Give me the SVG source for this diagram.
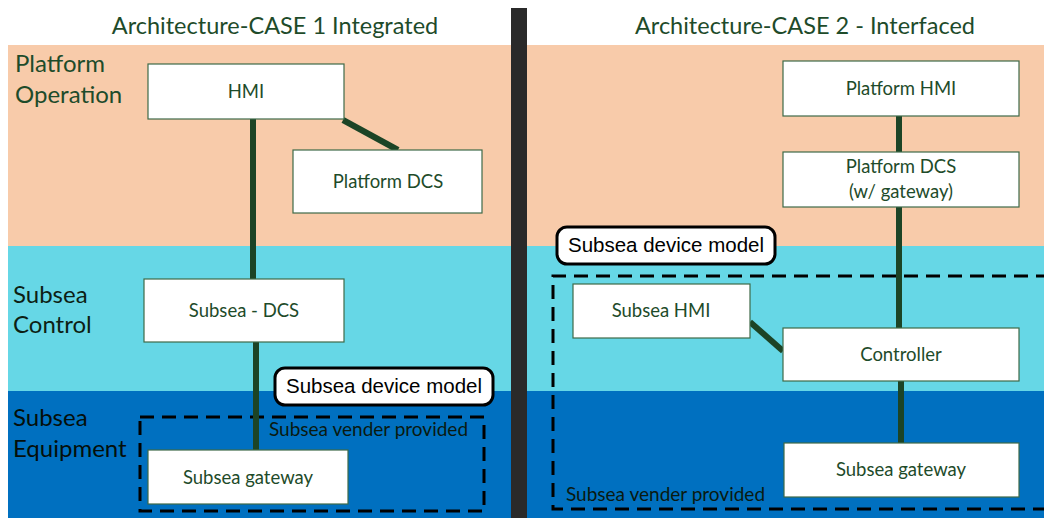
<svg xmlns="http://www.w3.org/2000/svg" width="1044" height="518" viewBox="0 0 1044 518">
  <style>
    .title { font-family: Lato, "Open Sans", sans-serif; font-size: 23.5px; fill: #1e4b2a; text-anchor: middle; }
    .band { font-family: Lato, "Open Sans", sans-serif; font-size: 24px; }
    .node rect { fill: #ffffff; stroke: #3e6a48; stroke-width: 1.2; }
    .node text { font-family: Lato, "Open Sans", sans-serif; font-size: 18.5px; fill: #1e4b2a; text-anchor: middle; }
    .link { stroke: #1c4426; stroke-width: 6; fill: none; }
    .vendor { fill: none; stroke: #000000; stroke-width: 3; stroke-dasharray: 14 8; }
    .vendor-label { font-family: Lato, "Open Sans", sans-serif; font-size: 19px; fill: #0a1a10; }
    .callout rect { fill: #ffffff; stroke: #000000; stroke-width: 3; }
    .callout text { font-family: "Liberation Sans", Arial, sans-serif; font-size: 20.5px; fill: #000000; text-anchor: middle; }
  </style>

  <rect x="0" y="0" width="1044" height="518" fill="#ffffff"/>

  <!-- layer bands, left panel -->
  <rect x="8" y="45" width="503" height="201" fill="#f8cbaa"/>
  <rect x="8" y="246" width="503" height="145" fill="#66d7e6"/>
  <rect x="8" y="391" width="503" height="127" fill="#0070c0"/>
  <!-- layer bands, right panel -->
  <rect x="527" y="45" width="517" height="201" fill="#f8cbaa"/>
  <rect x="527" y="246" width="517" height="145" fill="#66d7e6"/>
  <rect x="527" y="391" width="517" height="127" fill="#0070c0"/>
  <!-- panel divider -->
  <rect x="511" y="8" width="16" height="510" fill="#2a2a2a"/>

  <!-- headings -->
  <text class="title" x="275" y="34">Architecture-CASE 1 Integrated</text>
  <text class="title" x="805" y="34">Architecture-CASE 2 - Interfaced</text>

  <!-- layer names -->
  <text class="band" x="15" y="72" fill="#1e4b2a">Platform</text>
  <text class="band" x="15" y="103" fill="#1e4b2a">Operation</text>
  <text class="band" x="13" y="303" fill="#0d1f14">Subsea</text>
  <text class="band" x="13" y="333" fill="#0d1f14">Control</text>
  <text class="band" x="13" y="426" fill="#050f0a">Subsea</text>
  <text class="band" x="13" y="457" fill="#050f0a">Equipment</text>

  <!-- vendor scope boxes -->
  <rect class="vendor" x="140" y="417" width="344" height="94"/>
  <text class="vendor-label" x="269" y="436">Subsea vender provided</text>
  <path class="vendor" d="M1050 276 H553 V509 H1050"/>
  <text class="vendor-label" x="566" y="501">Subsea vender provided</text>

  <!-- connectors -->
  <g id="connectors">
    <line class="link" x1="253" y1="119" x2="253" y2="279"/>
    <line class="link" x1="343" y1="120" x2="398" y2="150"/>
    <line class="link" x1="256" y1="342" x2="256" y2="450"/>
    <line class="link" x1="899" y1="116" x2="899" y2="152"/>
    <line class="link" x1="899" y1="207" x2="899" y2="328"/>
    <line class="link" x1="750" y1="322" x2="783" y2="351"/>
    <line class="link" x1="901" y1="381" x2="901" y2="443"/>
  </g>

  <!-- case 1 nodes -->
  <g id="c1-hmi" class="node">
    <rect x="148" y="64" width="196" height="55"/>
    <text x="246" y="98">HMI</text>
  </g>
  <g id="c1-platform-dcs" class="node">
    <rect x="293" y="150" width="189" height="63"/>
    <text x="388" y="188">Platform DCS</text>
  </g>
  <g id="c1-subsea-dcs" class="node">
    <rect x="144" y="279" width="200" height="63"/>
    <text x="244" y="317">Subsea - DCS</text>
  </g>
  <g id="c1-subsea-gateway" class="node">
    <rect x="148" y="450" width="200" height="54"/>
    <text x="248" y="484">Subsea gateway</text>
  </g>

  <!-- case 2 nodes -->
  <g id="c2-platform-hmi" class="node">
    <rect x="783" y="61" width="236" height="55"/>
    <text x="901" y="95">Platform HMI</text>
  </g>
  <g id="c2-platform-dcs" class="node">
    <rect x="783" y="152" width="236" height="55"/>
    <text x="901" y="173">Platform DCS</text>
    <text x="901" y="198">(w/ gateway)</text>
  </g>
  <g id="c2-subsea-hmi" class="node">
    <rect x="573" y="284" width="177" height="54"/>
    <text x="661" y="317">Subsea HMI</text>
  </g>
  <g id="c2-controller" class="node">
    <rect x="783" y="328" width="236" height="53"/>
    <text x="901" y="361">Controller</text>
  </g>
  <g id="c2-subsea-gateway" class="node">
    <rect x="784" y="443" width="235" height="54"/>
    <text x="901" y="476">Subsea gateway</text>
  </g>

  <!-- device model callouts -->
  <g id="c1-device-model" class="callout">
    <rect x="275" y="368" width="218" height="37" rx="10"/>
    <text x="384" y="393">Subsea device model</text>
  </g>
  <g id="c2-device-model" class="callout">
    <rect x="557" y="227" width="218" height="37" rx="10"/>
    <text x="666" y="252">Subsea device model</text>
  </g>
</svg>
